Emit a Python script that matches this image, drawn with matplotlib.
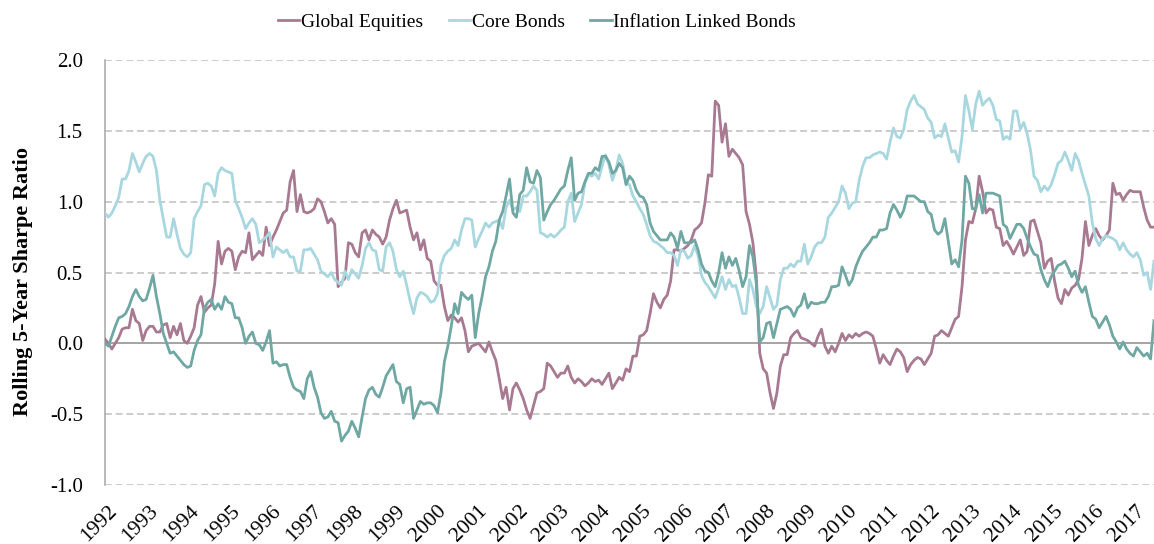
import matplotlib
matplotlib.use("Agg")
import matplotlib.pyplot as plt
import matplotlib.transforms as mtransforms
import numpy as np

# ---------------- data (monthly, Jan 1992 - Jul 2017) ----------------
global_equities = [
    0.03, 0.00, -0.04, 0.00, 0.04, 0.10, 0.11, 0.11, 0.24, 0.16, 0.14, 0.02,
    0.09, 0.12, 0.12, 0.08, 0.08, 0.13, 0.14, 0.04, 0.12, 0.06, 0.14, 0.02,
    0.00, 0.05, 0.11, 0.27, 0.33, 0.22, 0.25, 0.27, 0.42, 0.72, 0.56, 0.65,
    0.67, 0.65, 0.52, 0.61, 0.65, 0.64, 0.78, 0.59, 0.62, 0.65, 0.62, 0.82,
    0.69, 0.75, 0.80, 0.86, 0.92, 0.94, 1.14, 1.22, 0.93, 1.05, 0.93, 0.92,
    0.93, 0.95, 1.02, 1.00, 0.93, 0.85, 0.88, 0.84, 0.40, 0.43, 0.46, 0.71,
    0.70, 0.64, 0.61, 0.78, 0.80, 0.73, 0.80, 0.77, 0.75, 0.70, 0.75, 0.87,
    0.95, 1.01, 0.92, 0.93, 0.94, 0.82, 0.73, 0.78, 0.66, 0.73, 0.60, 0.58,
    0.44, 0.41, 0.41, 0.26, 0.16, 0.20, 0.18, 0.15, 0.18, 0.09, -0.06, -0.02,
    -0.01, 0.00, -0.03, -0.06, 0.01, -0.06, -0.12, -0.25, -0.39, -0.31, -0.47, -0.32,
    -0.28, -0.33, -0.39, -0.47, -0.53, -0.44, -0.35, -0.34, -0.32, -0.14, -0.16, -0.20,
    -0.24, -0.21, -0.21, -0.16, -0.24, -0.28, -0.25, -0.27, -0.30, -0.28, -0.25, -0.27,
    -0.26, -0.29, -0.25, -0.21, -0.32, -0.28, -0.24, -0.26, -0.18, -0.20, -0.09, -0.09,
    0.05, 0.06, 0.09, 0.21, 0.35, 0.29, 0.25, 0.31, 0.34, 0.44, 0.66, 0.66,
    0.65, 0.67, 0.69, 0.73, 0.80, 0.82, 0.85, 0.99, 1.19, 1.18, 1.71, 1.68,
    1.42, 1.55, 1.32, 1.37, 1.34, 1.31, 1.26, 0.93, 0.84, 0.71, 0.47, -0.07,
    -0.18, -0.21, -0.35, -0.46, -0.35, -0.16, -0.08, -0.08, 0.04, 0.07, 0.09, 0.04,
    0.03, 0.02, 0.00, -0.02, 0.05, 0.10, -0.02, -0.07, -0.02, -0.06, 0.00, 0.07,
    0.02, 0.06, 0.04, 0.07, 0.05, 0.07, 0.08, 0.07, 0.05, -0.04, -0.14, -0.08,
    -0.12, -0.15, -0.09, -0.04, -0.06, -0.10, -0.20, -0.15, -0.12, -0.10, -0.11, -0.15,
    -0.11, -0.07, 0.05, 0.06, 0.09, 0.07, 0.05, 0.11, 0.17, 0.19, 0.40, 0.73,
    0.86, 0.85, 0.95, 1.18, 1.07, 0.92, 0.95, 0.94, 0.82, 0.81, 0.69, 0.72,
    0.68, 0.63, 0.68, 0.73, 0.62, 0.65, 0.86, 0.87, 0.79, 0.71, 0.53, 0.58,
    0.60, 0.44, 0.32, 0.28, 0.38, 0.34, 0.39, 0.41, 0.45, 0.60, 0.86, 0.69,
    0.76, 0.81, 0.76, 0.73, 0.76, 0.80, 1.13, 1.05, 1.06, 1.01, 1.05, 1.08,
    1.07, 1.07, 1.07, 0.96, 0.87, 0.82, 0.82,
]

core_bonds = [
    0.92, 0.89, 0.92, 0.97, 1.03, 1.16, 1.16, 1.22, 1.34, 1.28, 1.21, 1.27,
    1.32, 1.34, 1.32, 1.22, 1.01, 0.88, 0.75, 0.75, 0.88, 0.77, 0.67, 0.63,
    0.61, 0.64, 0.88, 0.93, 0.97, 1.12, 1.13, 1.11, 1.04, 1.20, 1.24, 1.22,
    1.21, 1.20, 1.01, 0.95, 0.89, 0.81, 0.85, 0.88, 0.84, 0.71, 0.73, 0.75,
    0.78, 0.61, 0.68, 0.66, 0.64, 0.66, 0.61, 0.61, 0.51, 0.51, 0.66, 0.66,
    0.67, 0.63, 0.59, 0.51, 0.49, 0.47, 0.50, 0.45, 0.43, 0.41, 0.51, 0.45,
    0.52, 0.49, 0.46, 0.55, 0.67, 0.71, 0.66, 0.65, 0.52, 0.51, 0.68, 0.71,
    0.65, 0.52, 0.47, 0.51, 0.41, 0.30, 0.21, 0.32, 0.36, 0.35, 0.33, 0.29,
    0.30, 0.35, 0.55, 0.62, 0.65, 0.67, 0.73, 0.69, 0.80, 0.88, 0.88, 0.87,
    0.68, 0.74, 0.79, 0.85, 0.82, 0.85, 0.86, 0.87, 0.81, 0.96, 1.01, 0.94,
    0.96, 0.93, 1.04, 1.04, 1.07, 1.11, 1.08, 0.78, 0.77, 0.75, 0.77, 0.75,
    0.77, 0.80, 0.82, 1.00, 1.06, 0.86, 0.92, 0.98, 1.13, 1.19, 1.18, 1.20,
    1.16, 1.25, 1.33, 1.26, 1.15, 1.22, 1.33, 1.27, 1.13, 1.12, 1.04, 1.00,
    0.95, 0.91, 0.84, 0.76, 0.72, 0.71, 0.69, 0.67, 0.64, 0.64, 0.62, 0.55,
    0.66, 0.65, 0.60, 0.62, 0.69, 0.62, 0.48, 0.43, 0.40, 0.36, 0.32, 0.39,
    0.47, 0.38, 0.45, 0.40, 0.41, 0.32, 0.21, 0.21, 0.45, 0.38, 0.26, 0.21,
    0.26, 0.40, 0.32, 0.24, 0.27, 0.45, 0.53, 0.53, 0.56, 0.54, 0.58, 0.58,
    0.70, 0.56, 0.61, 0.68, 0.71, 0.71, 0.75, 0.89, 0.92, 0.96, 1.00, 1.11,
    1.06, 0.95, 0.99, 1.00, 1.15, 1.25, 1.31, 1.31, 1.33, 1.34, 1.35, 1.34,
    1.30, 1.42, 1.52, 1.46, 1.45, 1.51, 1.65, 1.71, 1.75, 1.69, 1.67, 1.65,
    1.59, 1.56, 1.45, 1.47, 1.46, 1.55, 1.45, 1.35, 1.36, 1.28, 1.46, 1.75,
    1.64, 1.51, 1.69, 1.78, 1.68, 1.71, 1.73, 1.68, 1.58, 1.57, 1.44, 1.46,
    1.44, 1.64, 1.64, 1.51, 1.56, 1.48, 1.36, 1.18, 1.15, 1.07, 1.11, 1.08,
    1.12, 1.19, 1.27, 1.29, 1.35, 1.29, 1.22, 1.34, 1.29, 1.20, 1.12, 1.04,
    0.85, 0.74, 0.69, 0.74, 0.76, 0.75, 0.74, 0.72, 0.66, 0.71, 0.66, 0.63,
    0.61, 0.64, 0.59, 0.48, 0.50, 0.38, 0.58,
]

inflation_linked = [
    0.00, -0.02, 0.05, 0.12, 0.18, 0.19, 0.21, 0.26, 0.33, 0.38, 0.33, 0.30,
    0.31, 0.39, 0.48, 0.33, 0.21, 0.07, 0.00, -0.07, -0.06, -0.09, -0.12, -0.15,
    -0.17, -0.16, -0.05, 0.02, 0.06, 0.25, 0.29, 0.31, 0.24, 0.28, 0.24, 0.33,
    0.29, 0.28, 0.18, 0.18, 0.11, 0.00, 0.05, 0.08, 0.00, -0.01, -0.05, 0.01,
    0.09, -0.14, -0.13, -0.16, -0.15, -0.15, -0.24, -0.31, -0.33, -0.34, -0.39, -0.25,
    -0.20, -0.31, -0.38, -0.49, -0.53, -0.52, -0.48, -0.55, -0.56, -0.69, -0.65, -0.62,
    -0.55, -0.60, -0.66, -0.52, -0.39, -0.33, -0.31, -0.36, -0.38, -0.31, -0.23, -0.19,
    -0.15, -0.27, -0.29, -0.42, -0.32, -0.31, -0.53, -0.47, -0.41, -0.43, -0.42, -0.42,
    -0.44, -0.49, -0.35, -0.13, -0.02, 0.12, 0.28, 0.21, 0.36, 0.33, 0.31, 0.34,
    0.04, 0.21, 0.33, 0.47, 0.54, 0.65, 0.72, 0.87, 0.93, 1.04, 1.16, 0.92,
    0.89, 1.05, 1.08, 1.24, 1.14, 1.13, 1.22, 1.17, 0.87, 0.93, 0.98, 1.01,
    1.05, 1.09, 1.11, 1.22, 1.31, 1.01, 1.06, 1.07, 1.14, 1.20, 1.20, 1.24,
    1.22, 1.32, 1.32, 1.28, 1.20, 1.22, 1.27, 1.24, 1.12, 1.18, 1.15, 1.08,
    1.04, 1.03, 0.98, 0.85, 0.79, 0.76, 0.73, 0.73, 0.73, 0.78, 0.75, 0.67,
    0.79, 0.71, 0.71, 0.71, 0.73, 0.66, 0.56, 0.51, 0.50, 0.44, 0.40, 0.50,
    0.64, 0.53, 0.61, 0.55, 0.60, 0.51, 0.40, 0.47, 0.69, 0.61, 0.42, 0.01,
    0.04, 0.14, 0.15, 0.04, 0.14, 0.24, 0.25, 0.26, 0.24, 0.19, 0.25, 0.27,
    0.35, 0.25, 0.29, 0.28, 0.28, 0.29, 0.29, 0.33, 0.40, 0.40, 0.41, 0.54,
    0.48, 0.41, 0.45, 0.54, 0.60, 0.65, 0.68, 0.71, 0.75, 0.75, 0.80, 0.80,
    0.81, 0.92, 0.98, 0.94, 0.89, 0.94, 1.04, 1.04, 1.04, 1.02, 1.00, 1.00,
    0.93, 0.91, 0.80, 0.77, 0.79, 0.88, 0.72, 0.56, 0.59, 0.54, 0.73, 1.18,
    1.13, 0.95, 0.95, 1.05, 0.92, 1.06, 1.06, 1.06, 1.05, 1.04, 0.84, 0.82,
    0.74, 0.79, 0.84, 0.84, 0.81, 0.74, 0.68, 0.63, 0.62, 0.52, 0.45, 0.40,
    0.47, 0.51, 0.55, 0.56, 0.58, 0.53, 0.47, 0.51, 0.41, 0.36, 0.40, 0.29,
    0.19, 0.17, 0.11, 0.15, 0.19, 0.13, 0.05, 0.01, -0.04, 0.01, -0.04, -0.07,
    -0.09, -0.03, -0.06, -0.09, -0.07, -0.11, 0.16,
]

series_names = ["Global Equities", "Core Bonds", "Inflation Linked Bonds"]
year_labels = [str(y) for y in range(1992, 2018)]
y_ticks = [-1.0, -0.5, 0.0, 0.5, 1.0, 1.5, 2.0]
y_label = "Rolling 5-Year Sharpe Ratio"

# ---------------- styling ----------------
colors = ["#A87A92", "#A9D7DF", "#6FA7A3"]
FONT = ["Liberation Serif", "DejaVu Serif"]
plt.rcParams["font.family"] = FONT

W, H = 1154, 544
fig = plt.figure(figsize=(W / 100, H / 100), dpi=100)
ax = fig.add_axes([105 / W, 1 - 485 / H, (W - 105) / W, (485 - 60) / H])

x = np.arange(len(global_equities))
for vals, name, c in zip([global_equities, core_bonds, inflation_linked], series_names, colors):
    ax.plot(x, vals, color=c, lw=2.0, label=name, solid_joinstyle="round", zorder=3)

ax.set_xlim(0, len(x) - 1)
ax.set_ylim(-1.0, 2.0)

for yt in y_ticks:
    if yt == 0.0:
        ax.axhline(yt, color="#8C8C8C", lw=1.1, zorder=2)
    else:
        ax.axhline(yt, color="#BEBEBE", lw=1.1, ls=(0, (4.5, 2.5)), zorder=1)

for s in ["top", "right", "bottom"]:
    ax.spines[s].set_visible(False)
ax.spines["left"].set_color("#A6A6A6")
ax.spines["left"].set_linewidth(1.1)

ax.set_yticks(y_ticks)
ax.set_yticklabels([f"{v:.1f}" for v in y_ticks], fontsize=15)
ax.tick_params(axis="y", length=0, pad=16)

ax.set_xticks(np.arange(0, len(x), 12))
ax.set_xticklabels(year_labels, rotation=45, ha="right", va="center",
                   rotation_mode="anchor", fontsize=15.5)
ax.tick_params(axis="x", length=0, pad=17)
offset = mtransforms.ScaledTranslation(9 / 100, 0, fig.dpi_scale_trans)
for lab in ax.get_xticklabels():
    lab.set_transform(lab.get_transform() + offset)

fig.text(23 / W, 1 - 281 / H, y_label, rotation=90, fontsize=16,
         fontweight="bold", ha="center", va="center")

handles, labels = ax.get_legend_handles_labels()
fig.legend(handles, labels, loc="center", bbox_to_anchor=(537 / W, 1 - 22 / H),
           ncol=3, frameon=False, fontsize=14, handlelength=1.1,
           handletextpad=0.1, columnspacing=1.3)

fig.savefig("out.png", dpi=100)
